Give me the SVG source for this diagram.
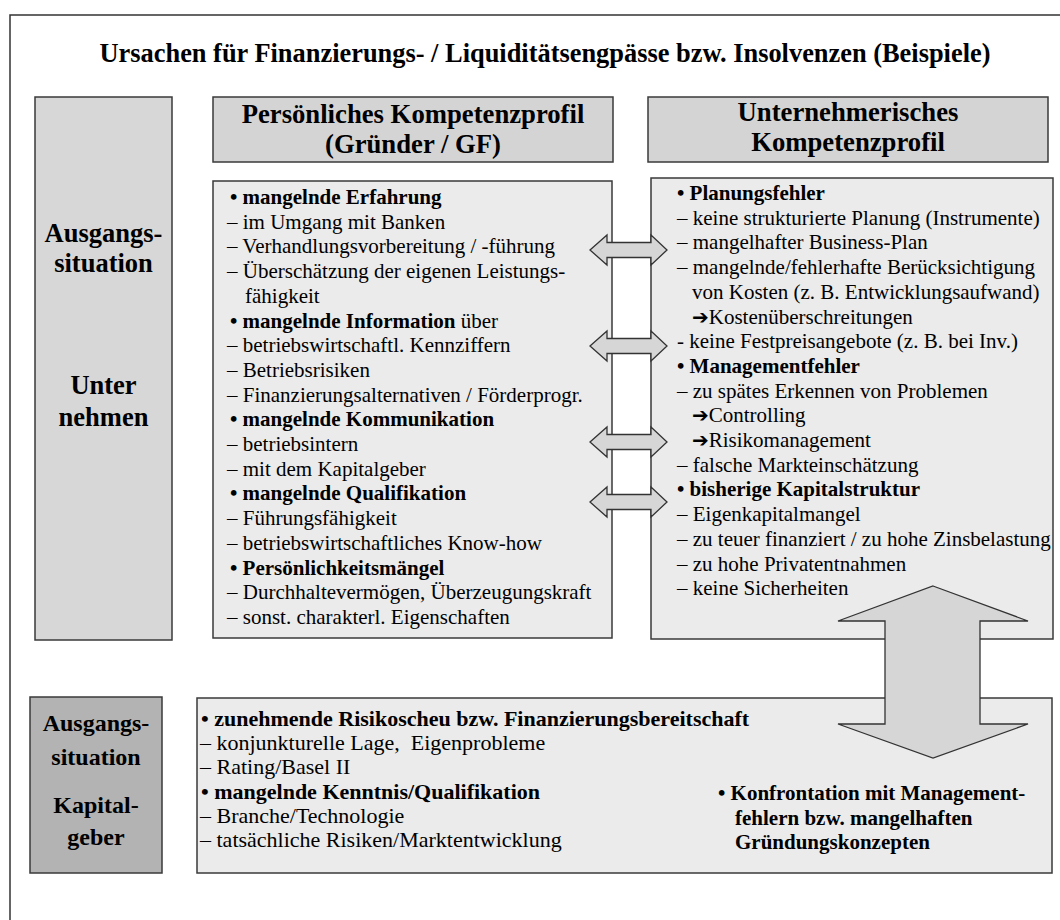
<svg xmlns="http://www.w3.org/2000/svg" width="1060" height="920" viewBox="0 0 1060 920">
<defs>
<style>
.t{font-family:"Liberation Serif","Times New Roman",serif;font-size:21px;fill:#000}
.b{font-weight:bold}
.h{font-family:"Liberation Serif","Times New Roman",serif;font-size:26.7px;font-weight:bold;text-anchor:middle;fill:#000}
.box{stroke:#3a3a3a;stroke-width:1.5}
.content{fill:#ebebeb}
.head{fill:#d4d4d4}
.side{fill:#d7d7d7}
.side2{fill:#b3b3b3}
.arr{fill:#d6d6d6;stroke:#333;stroke-width:1.3}
.sym{font-family:"DejaVu Sans",sans-serif;font-size:20px;font-weight:bold}
</style>
</defs>
<rect width="1060" height="920" fill="#fff"/>
<path d="M10,920 V15 H1060" fill="none" stroke="#333" stroke-width="1.5"/>
<text id="title" x="545" y="62" class="t b" style="font-size:26.4px" text-anchor="middle">Ursachen für Finanzierungs- / Liquiditätsengpässe bzw. Insolvenzen (Beispiele)</text>

<g id="side-unternehmen">
<rect class="box side" x="35" y="97" width="137" height="543"/>
<text class="h" style="font-size:26.5px" x="103.5" y="242">Ausgangs-</text>
<text class="h" style="font-size:26.5px" x="103.5" y="272">situation</text>
<text class="h" style="font-size:26.5px" x="103.5" y="394">Unter</text>
<text class="h" style="font-size:26.5px" x="103.5" y="426">nehmen</text>
</g>

<g id="side-kapitalgeber">
<rect class="box side2" x="30" y="697" width="132" height="176"/>
<text class="h" style="font-size:24px" x="96" y="731">Ausgangs-</text>
<text class="h" style="font-size:24px" x="96" y="765">situation</text>
<text class="h" style="font-size:24px" x="96" y="813">Kapital-</text>
<text class="h" style="font-size:24px" x="96" y="845">geber</text>
</g>

<g id="header-persoenlich">
<rect class="box head" x="213" y="97" width="400" height="65"/>
<text class="h" x="413" y="123">Persönliches Kompetenzprofil</text>
<text class="h" x="413" y="153">(Gründer / GF)</text>
</g>

<g id="header-unternehmerisch">
<rect class="box head" x="648" y="97" width="400" height="65"/>
<text class="h" x="848" y="121">Unternehmerisches</text>
<text class="h" x="848" y="151">Kompetenzprofil</text>
</g>

<g id="content-persoenlich">
<rect class="box content" x="213" y="181" width="399" height="457"/>
<text class="t b" x="230" y="204">• mangelnde Erfahrung</text>
<text class="t" x="227" y="228.7">– im Umgang mit Banken</text>
<text class="t" x="227" y="253.4">– Verhandlungsvorbereitung / -führung</text>
<text class="t" x="227" y="278.1">– Überschätzung der eigenen Leistungs-</text>
<text class="t" x="245" y="302.8">fähigkeit</text>
<text class="t" x="230" y="327.5"><tspan class="b">• mangelnde Information</tspan> über</text>
<text class="t" x="227" y="352.2">– betriebswirtschaftl. Kennziffern</text>
<text class="t" x="227" y="376.9">– Betriebsrisiken</text>
<text class="t" x="227" y="401.6">– Finanzierungsalternativen / Förderprogr.</text>
<text class="t b" x="230" y="426.3">• mangelnde Kommunikation</text>
<text class="t" x="227" y="451">– betriebsintern</text>
<text class="t" x="227" y="475.7">– mit dem Kapitalgeber</text>
<text class="t b" x="230" y="500.4">• mangelnde Qualifikation</text>
<text class="t" x="227" y="525.1">– Führungsfähigkeit</text>
<text class="t" x="227" y="549.8">– betriebswirtschaftliches Know-how</text>
<text class="t b" x="230" y="574.5">• Persönlichkeitsmängel</text>
<text class="t" x="227" y="599.2">– Durchhaltevermögen, Überzeugungskraft</text>
<text class="t" x="227" y="623.9">– sonst. charakterl. Eigenschaften</text>
</g>

<g id="content-unternehmerisch">
<rect class="box content" x="651" y="178" width="402" height="461"/>
<text class="t b" x="677" y="200">• Planungsfehler</text>
<text class="t" x="677" y="224.7">– keine strukturierte Planung (Instrumente)</text>
<text class="t" x="677" y="249.4">– mangelhafter Business-Plan</text>
<text class="t" x="677" y="274.1">– mangelnde/fehlerhafte Berücksichtigung</text>
<text class="t" x="692" y="298.8">von Kosten (z. B. Entwicklungsaufwand)</text>
<text class="t" x="692" y="323.5"><tspan class="sym">➔</tspan>Kostenüberschreitungen</text>
<text class="t" x="677" y="348.2">- keine Festpreisangebote (z. B. bei Inv.)</text>
<text class="t b" x="677" y="372.9">• Managementfehler</text>
<text class="t" x="677" y="397.6">– zu spätes Erkennen von Problemen</text>
<text class="t" x="692" y="422.3"><tspan class="sym">➔</tspan>Controlling</text>
<text class="t" x="692" y="447"><tspan class="sym">➔</tspan>Risikomanagement</text>
<text class="t" x="677" y="471.7">– falsche Markteinschätzung</text>
<text class="t b" x="677" y="496.4">• bisherige Kapitalstruktur</text>
<text class="t" x="677" y="521.1">– Eigenkapitalmangel</text>
<text class="t" x="677" y="545.8">– zu teuer finanziert / zu hohe Zinsbelastung</text>
<text class="t" x="677" y="570.5">– zu hohe Privatentnahmen</text>
<text class="t" x="677" y="595.2">– keine Sicherheiten</text>
</g>

<g id="content-kapitalgeber">
<rect class="box content" x="197" y="698" width="855" height="175"/>
<text class="t b" style="font-size:22px" x="201" y="726">• zunehmende Risikoscheu bzw. Finanzierungsbereitschaft</text>
<text class="t" style="font-size:22px" x="200" y="750.2">– konjunkturelle Lage,&#160; Eigenprobleme</text>
<text class="t" style="font-size:22px" x="200" y="774.4">– Rating/Basel II</text>
<text class="t b" style="font-size:22px" x="201" y="798.6">• mangelnde Kenntnis/Qualifikation</text>
<text class="t" style="font-size:22px" x="200" y="822.8">– Branche/Technologie</text>
<text class="t" style="font-size:22px" x="200" y="847">– tatsächliche Risiken/Marktentwicklung</text>
<text class="t b" x="718" y="800">• Konfrontation mit Management-</text>
<text class="t b" x="735" y="825">fehlern bzw. mangelhaften</text>
<text class="t b" x="735" y="849">Gründungskonzepten</text>
</g>

<g id="connectors">
<polygon class="arr" points="590,250 607,235 607,242.5 651,242.5 651,235 667,250 651,265 651,257.5 607,257.5 607,265"/>
<polygon class="arr" points="590,346 607,331 607,338.5 651,338.5 651,331 667,346 651,361 651,353.5 607,353.5 607,361"/>
<polygon class="arr" points="590,442 607,427 607,434.5 651,434.5 651,427 667,442 651,457 651,449.5 607,449.5 607,457"/>
<polygon class="arr" points="590,502 607,487 607,494.5 651,494.5 651,487 667,502 651,517 651,509.5 607,509.5 607,517"/>
<polygon class="arr" points="933,586 1028,621 980,621 980,724 1028,724 933,758 838,724 885,724 885,621 838,621"/>
</g>
</svg>
